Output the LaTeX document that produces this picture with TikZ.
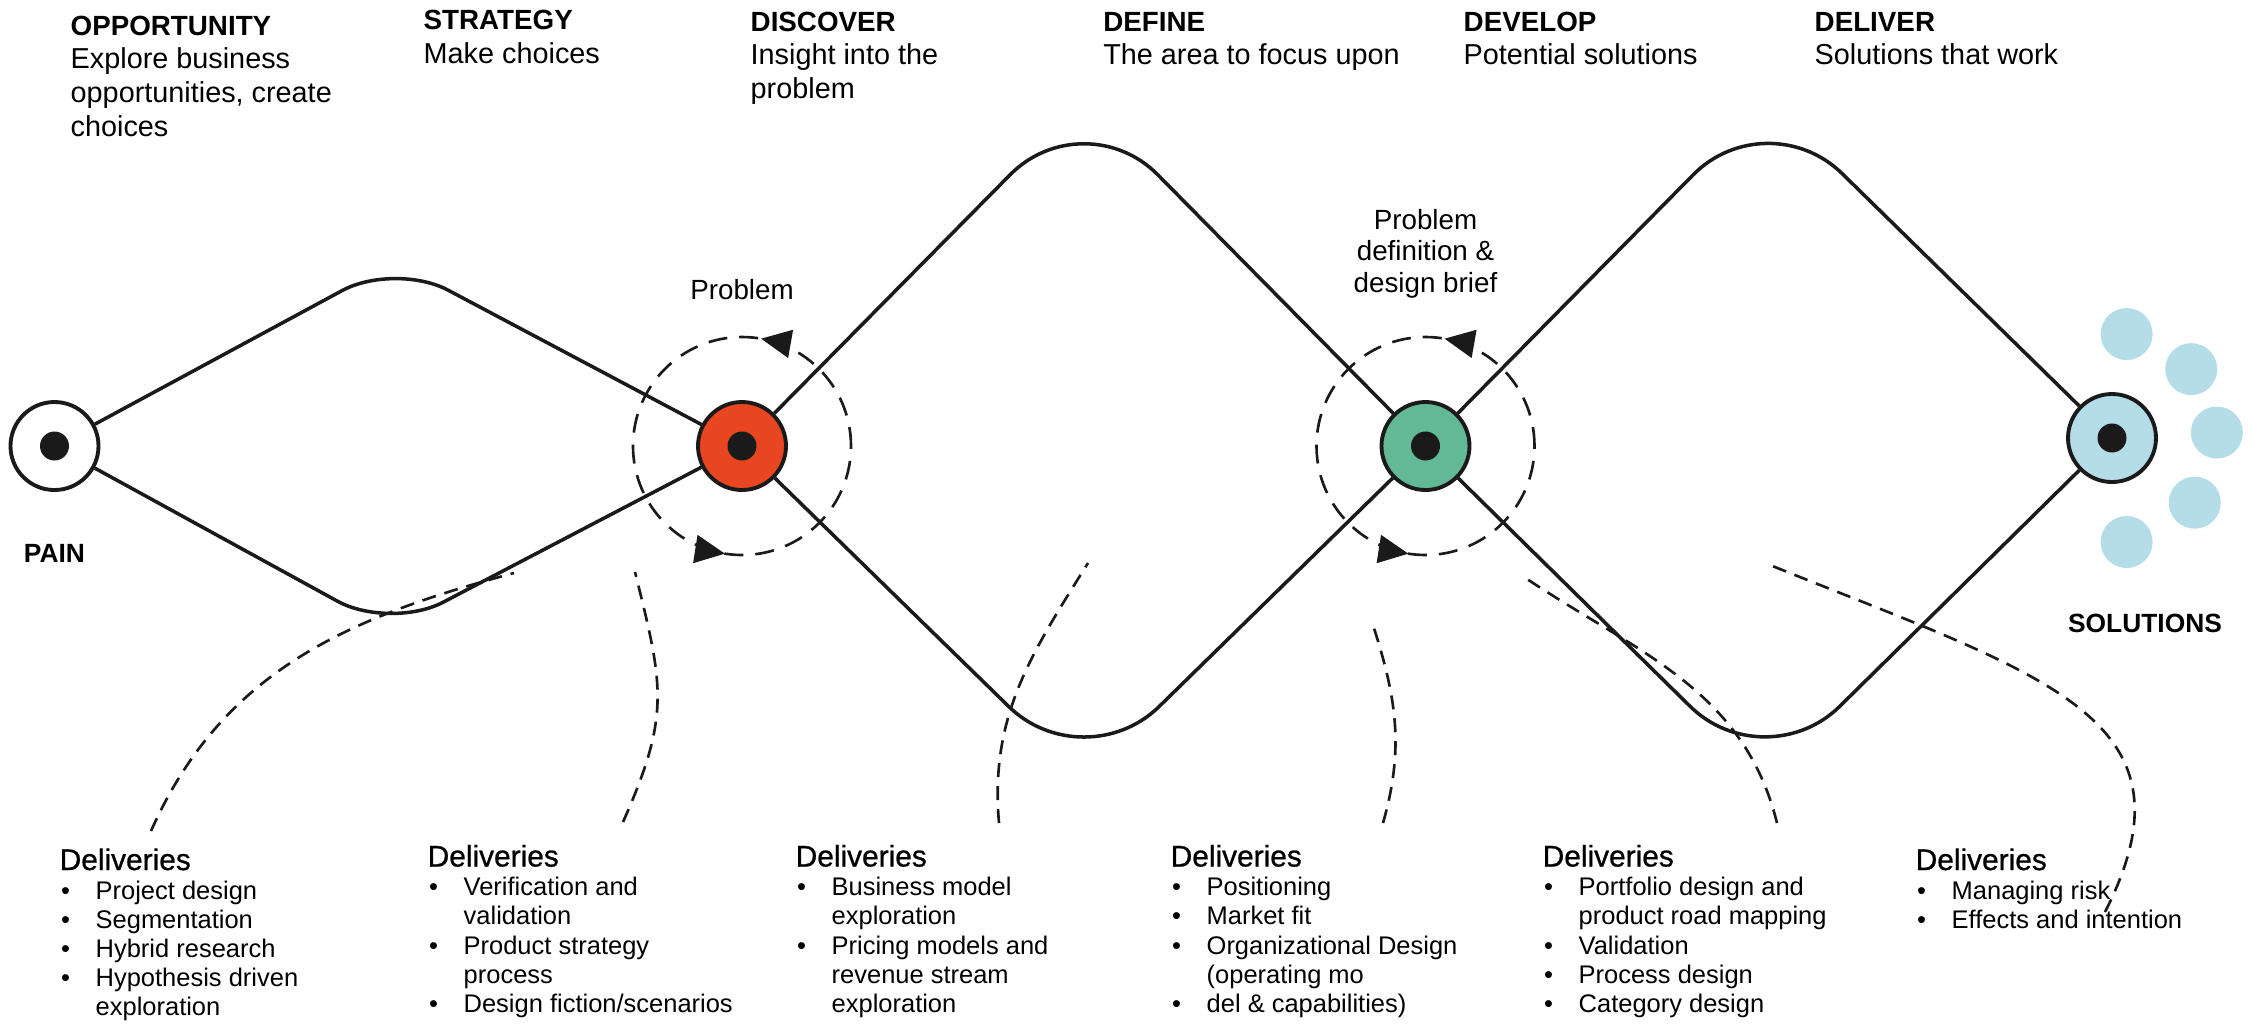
\documentclass[tikz,border=0pt]{standalone}
\usepackage{fontspec}
\setmainfont{Liberation Sans}
\newfontfamily\delfont{Liberation Sans}[FakeBold=0.8]
\usepackage{tikz}
\usetikzlibrary{positioning,arrows.meta,decorations.markings}

\definecolor{probred}{HTML}{E84621}
\definecolor{briefgreen}{HTML}{63B995}
\definecolor{solblue}{HTML}{B4DDE8}
\definecolor{inkdark}{HTML}{1A1A1A}

\newcommand{\headfont}{\fontsize{8.2}{9.6}\selectfont}
\newcommand{\headcap}{\fontsize{7.9}{9.6}\selectfont\bfseries}
\newcommand{\itemfont}{\fontsize{7.25}{8.3}\selectfont}
\newcommand{\delcap}{\delfont\fontsize{8.5}{8.3}\selectfont}
\newcommand{\tagfont}{\fontsize{7.9}{9.0}\selectfont}

\begin{document}
\begin{tikzpicture}[
  x=0.1mm, y=0.1mm,
  stage/.style={circle, draw=inkdark, line width=1.1pt, minimum size=8.8mm, inner sep=0pt},
  eye/.style={circle, fill=inkdark, minimum size=2.9mm, inner sep=0pt},
  bubble/.style={circle, fill=solblue, minimum size=5.2mm, inner sep=0pt},
  track/.style={draw=inkdark, line width=1pt},
  ringline/.style={draw=inkdark, line width=0.75pt, dash pattern=on 1.9mm off 1.2mm,
    postaction={decorate}, decoration={markings,
      mark=at position 0.222 with {\arrow{Triangle[length=3mm,width=2.8mm]}},
      mark=at position 0.725 with {\arrow{Triangle[length=3mm,width=2.8mm]}}}},
  link/.style={draw=inkdark, line width=0.75pt, dash pattern=on 1.4mm off 0.9mm},
  hblock/.style={anchor=base west, inner sep=0pt, font=\headfont},
  dblock/.style={anchor=base west, inner sep=0pt, font=\itemfont},
  tag/.style={inner sep=0pt, font=\tagfont},
  caps/.style={inner sep=0pt, font=\fontsize{7.5}{9}\selectfont\bfseries}
]
\useasboundingbox (0,0) rectangle (2254,-1023);
\fill[white] (0,0) rectangle (2254,-1023);

% ======================================================
% =============== STAGES ===============================
% ======================================================
\node[stage, fill=white] (pain) at (54.5,-446) {};
\node[stage, fill=probred] (prob) at (742,-446) {};
\node[stage, fill=briefgreen] (brief) at (1425.5,-446) {};
\node[stage, fill=solblue] (sol) at (2112,-438) {};

% diamond corners
\coordinate (d1t) at (395,-262);
\coordinate (d1b) at (390,-630);
\coordinate (d2t) at (1084,-100);
\coordinate (d2b) at (1084,-780);
\coordinate (d3t) at (1767,-100);
\coordinate (d3b) at (1765,-780);

\draw[track, rounded corners=6mm] (pain) -- (d1t) -- (prob);
\draw[track, rounded corners=6mm] (pain) -- (d1b) -- (prob);
\draw[track, rounded corners=10.5mm] (prob) -- (d2t) -- (brief);
\draw[track, rounded corners=10.5mm] (prob) -- (d2b) -- (brief);
\draw[track, rounded corners=10.5mm] (brief) -- (d3t) -- (sol);
\draw[track, rounded corners=10.5mm] (brief) -- (d3b) -- (sol);

% loops round the two middle stages
\draw[ringline] (prob.center) circle[radius=10.9mm];
\draw[ringline] (brief.center) circle[radius=10.9mm];

\node[eye] (painEye) at (pain) {};
\node[eye] (probEye) at (prob) {};
\node[eye] (briefEye) at (brief) {};
\node[eye] (solEye) at (sol) {};

\foreach \a [count=\i] in {82,41,3,-38,-82}
  \node[bubble] (bub\i) at ([shift={(\a:10.5mm)}]sol.center) {};

\node[tag, above=10mm of prob] (probTag) {Problem};
\node[tag, align=center, above=10.1mm of brief] (briefTag) {Problem\\definition \&\\design brief};
\node[caps, below=5.2mm of pain] (painTag) {PAIN};
\node[caps, below=12.9mm of sol, xshift=3.3mm] (solTag) {SOLUTIONS};

% ======================================================
% =============== PHASES ===============================
% ======================================================
\node[hblock] (hOpp) at (70,-35) {\begin{tabular}[t]{@{}l@{}}
  \headcap OPPORTUNITY\\ Explore business\\ opportunities, create\\ choices\end{tabular}};
\node[hblock] (hStr) at (423,-29.5) {\begin{tabular}[t]{@{}l@{}}
  \headcap STRATEGY\\ Make choices\end{tabular}};
\node[hblock] (hDis) at (750,-31) {\begin{tabular}[t]{@{}l@{}}
  \headcap DISCOVER\\ Insight into the\\ problem\end{tabular}};
\node[hblock] (hDef) at (1102.6,-31) {\begin{tabular}[t]{@{}l@{}}
  \headcap DEFINE\\ The area to focus upon\end{tabular}};
\node[hblock] (hDev) at (1463,-31) {\begin{tabular}[t]{@{}l@{}}
  \headcap DEVELOP\\ Potential solutions\end{tabular}};
\node[hblock] (hDel) at (1814,-31) {\begin{tabular}[t]{@{}l@{}}
  \headcap DELIVER\\ Solutions that work\end{tabular}};

% ======================================================
% =============== DELIVERIES ===========================
% ======================================================
\node[dblock] (del1) at (59,-870) {\begin{tabular}[t]{@{\hspace{0.15mm}}p{3.45mm}@{}l@{}}
  \multicolumn{2}{@{}l@{}}{\delcap Deliveries}\\
  \textbullet & Project design\\
  \textbullet & Segmentation\\
  \textbullet & Hybrid research\\
  \textbullet & Hypothesis driven\\
   & exploration\end{tabular}};

\node[dblock] (del2) at (427,-866.5) {\begin{tabular}[t]{@{\hspace{0.15mm}}p{3.45mm}@{}l@{}}
  \multicolumn{2}{@{}l@{}}{\delcap Deliveries}\\
  \textbullet & Verification and\\
   & validation\\
  \textbullet & Product strategy\\
   & process\\
  \textbullet & Design fiction/scenarios\end{tabular}};

\node[dblock] (del3) at (795,-866.5) {\begin{tabular}[t]{@{\hspace{0.15mm}}p{3.45mm}@{}l@{}}
  \multicolumn{2}{@{}l@{}}{\delcap Deliveries}\\
  \textbullet & Business model\\
   & exploration\\
  \textbullet & Pricing models and\\
   & revenue stream\\
   & exploration\end{tabular}};

\node[dblock] (del4) at (1170,-866.5) {\begin{tabular}[t]{@{\hspace{0.15mm}}p{3.45mm}@{}l@{}}
  \multicolumn{2}{@{}l@{}}{\delcap Deliveries}\\
  \textbullet & Positioning\\
  \textbullet & Market fit\\
  \textbullet & Organizational Design\\
   & (operating mo\\
  \textbullet & del \& capabilities)\end{tabular}};

\node[dblock] (del5) at (1542,-866.5) {\begin{tabular}[t]{@{\hspace{0.15mm}}p{3.45mm}@{}l@{}}
  \multicolumn{2}{@{}l@{}}{\delcap Deliveries}\\
  \textbullet & Portfolio design and\\
   & product road mapping\\
  \textbullet & Validation\\
  \textbullet & Process design\\
  \textbullet & Category design\end{tabular}};

\node[dblock] (del6) at (1915,-870) {\begin{tabular}[t]{@{\hspace{0.15mm}}p{3.45mm}@{}l@{}}
  \multicolumn{2}{@{}l@{}}{\delcap Deliveries}\\
  \textbullet & Managing risk\\
  \textbullet & Effects and intention\end{tabular}};

% dashed leads from each list up into the diagram
\coordinate (f1) at (151,-831);  \coordinate (t1) at (514,-573);
\coordinate (f2) at (623,-822);  \coordinate (t2) at (635,-572);
\coordinate (f3) at (999,-823);  \coordinate (t3) at (1088,-563);
\coordinate (f4) at (1383,-823); \coordinate (t4) at (1372,-622);
\coordinate (f5) at (1777,-823); \coordinate (t5) at (1521,-575);
\coordinate (f6) at (2105,-912); \coordinate (t6) at (1765,-563);

\draw[link] (f1) to[out=66,in=195] (t1);
\draw[link] (f2) to[out=66,in=-76,looseness=1.2] (t2);
\draw[link] (f3) to[out=95,in=238] (t3);
\draw[link] (f4) to[out=74,in=-72] (t4);
\draw[link] (f5) to[out=104,in=-34] (t5);
\draw[link] (f6) to[out=63,in=-22,out distance=22mm,in distance=30mm] (t6);

\end{tikzpicture}
\end{document}
